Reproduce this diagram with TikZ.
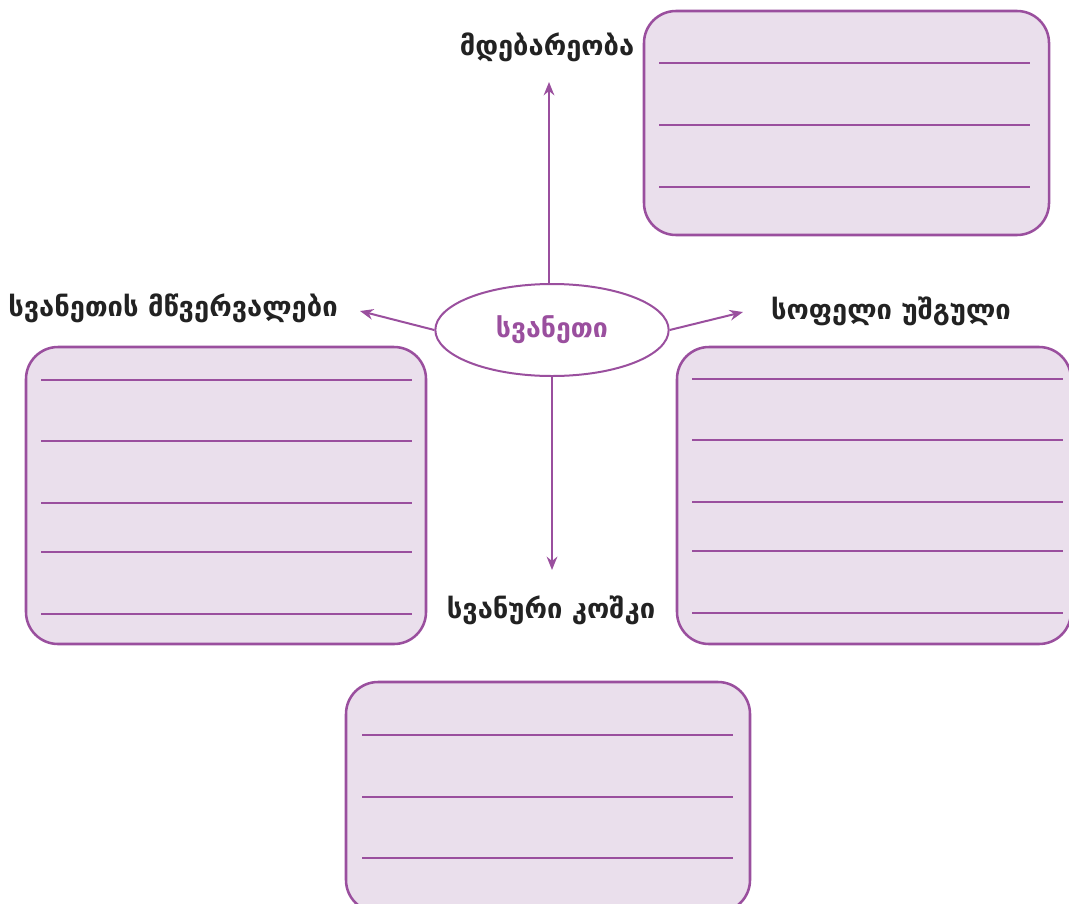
\documentclass[tikz,border=0pt]{standalone}
\usepackage{fontspec}
\setmainfont{DejaVu Sans}
\usetikzlibrary{arrows.meta,shapes.geometric}
\definecolor{pur}{HTML}{9A4F9E}
\definecolor{lil}{HTML}{EADFEC}
\definecolor{ink}{HTML}{222222}
\begin{document}
\begin{tikzpicture}[x=0.75pt,y=-0.75pt,
 box/.style={draw=pur, fill=lil, line width=1.9pt, rounded corners=24pt},
 wline/.style={draw=pur, line width=1.9pt},
 arr/.style={draw=pur, line width=1.5pt, -{Stealth[length=10pt,width=8pt]}},
 lab/.style={font=\bfseries\fontsize{20.5}{24}\selectfont, text=ink, inner sep=0pt},
 hub/.style={draw=pur, fill=white, ellipse, line width=1.5pt, minimum width=175pt, minimum height=69pt, inner sep=0pt, text=pur, font=\bfseries\fontsize{20}{24}\selectfont},
]
\useasboundingbox (0,0) rectangle (1069,903);

% answer boxes
\draw[box] (644,11) rectangle (1049,235);
\foreach \y in {63,125,187} \draw[wline] (659,\y) -- (1030,\y);

\draw[box] (26,347) rectangle (426,644);
\foreach \y in {380,441,503,552,614} \draw[wline] (41,\y) -- (412,\y);

\draw[box] (677,347) rectangle (1071,644);
\foreach \y in {379,440,502,551,613} \draw[wline] (692,\y) -- (1063,\y);

\draw[box] (346,682) rectangle (750,912);
\foreach \y in {735,797,858} \draw[wline] (362,\y) -- (733,\y);

% hub
\node[hub] (c) at (552,330) {სვანეთი};

% labels
\node[lab] (t) at (547,47) {მდებარეობა};
\node[lab] (l) at (173,308) {სვანეთის მწვერვალები};
\node[lab] (r) at (891,311) {სოფელი უშგული};
\node[lab] (b) at (551,610) {სვანური კოშკი};

% arrow ends
\coordinate (tA) at (549,82);
\coordinate (lA) at (360,311);
\coordinate (rA) at (743,312);
\coordinate (bA) at (552,570);

\draw[arr] (c.north -| tA) -- (tA);
\draw[arr] (c.west) -- (lA);
\draw[arr] (c.east) -- (rA);
\draw[arr] (c.south) -- (bA);
\end{tikzpicture}
\end{document}
